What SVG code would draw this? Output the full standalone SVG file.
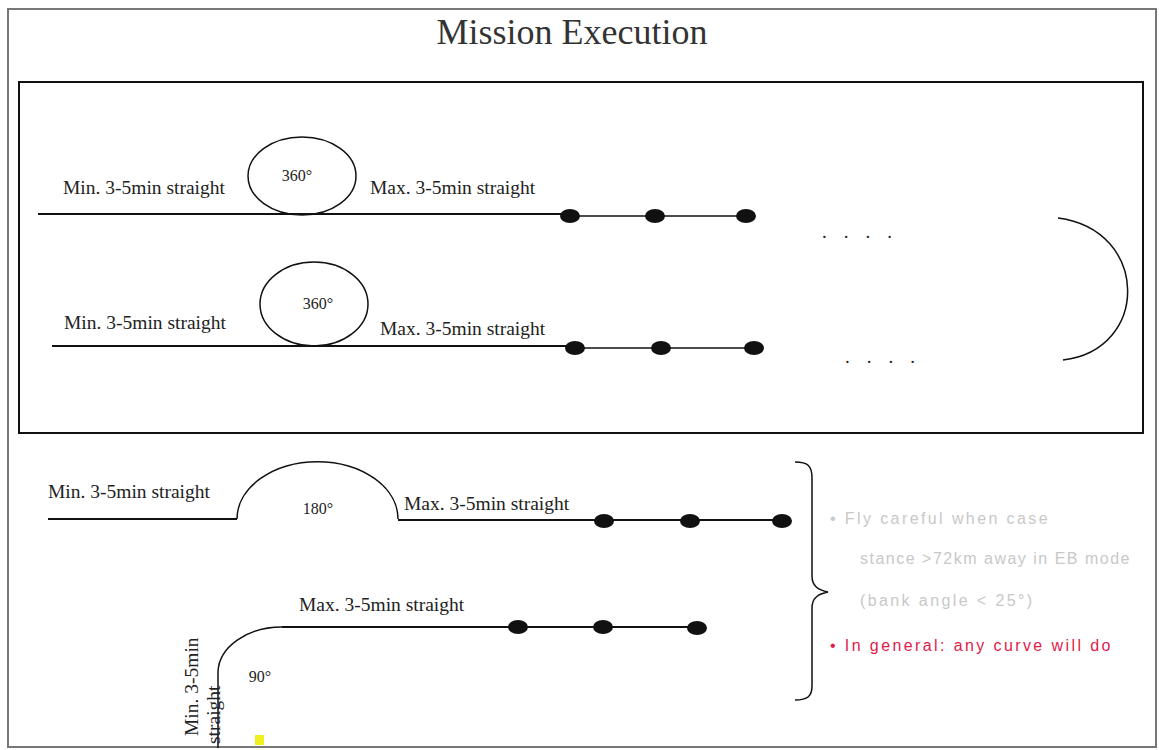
<svg xmlns="http://www.w3.org/2000/svg" width="1159" height="750" viewBox="0 0 1159 750">
<style>
.lbl{font-family:"Liberation Serif",serif;font-size:19.5px;fill:#222}
.deg{font-family:"Liberation Serif",serif;font-size:16px;fill:#222;text-anchor:middle}
.ln{stroke:#111;fill:none;stroke-width:2}
.thin{stroke:#111;fill:none;stroke-width:1.5}
.dot{fill:#111}
.dots{font-family:"Liberation Serif",serif;font-size:19px;fill:#222;letter-spacing:17px}
.note{font-family:"Liberation Sans",Arial,sans-serif;font-size:16px;fill:#c8c8c8;letter-spacing:2.4px}
</style>
<rect width="1159" height="750" fill="#fff"/>
<rect x="8" y="9" width="1148" height="738" fill="none" stroke="#777" stroke-width="2"/>
<text x="572" y="44" text-anchor="middle" font-family="'Liberation Serif',serif" font-size="36" fill="#333">Mission Execution</text>
<rect id="box" x="19" y="82" width="1124" height="351" fill="none" stroke="#111" stroke-width="2"/>
<g id="connectors">
<path class="ln" d="M38 214 H568"/>
<path class="thin" d="M568 216 H747"/>
<path class="ln" d="M52 346 H570"/>
<path class="thin" d="M570 348 H754"/>
<path class="thin" d="M1058 218 C1150 230 1150 350 1063 360"/>
<path class="ln" d="M48 519 H237"/>
<path class="thin" d="M237 519 A80 57 0 0 1 398 519"/>
<path class="ln" d="M398 520 H782"/>
<path class="thin" d="M218 748 V672 A64 46 0 0 1 282 627"/>
<path class="ln" d="M282 627 H697"/>
<path class="thin" d="M795 462 C808 462 812 466 812 478 V576 C812 586 818 590 828 592 C818 594 812 598 812 608 V686 C812 696 808 700 795 700"/>
</g>
<g id="row1">
<ellipse class="thin" cx="302" cy="176" rx="54" ry="39"/>
<text class="lbl" x="63" y="194">Min. 3-5min straight</text>
<text class="deg" x="297" y="181">360°</text>
<text class="lbl" x="370" y="194">Max. 3-5min straight</text>
<ellipse class="dot" cx="570" cy="216" rx="10" ry="7"/>
<ellipse class="dot" cx="655" cy="216" rx="10" ry="7"/>
<ellipse class="dot" cx="746" cy="216" rx="10" ry="7"/>
<text class="dots" x="822" y="238">....</text>
</g>
<g id="row2">
<ellipse class="thin" cx="314" cy="304" rx="54" ry="42"/>
<text class="lbl" x="64" y="329">Min. 3-5min straight</text>
<text class="deg" x="318" y="309">360°</text>
<text class="lbl" x="380" y="335">Max. 3-5min straight</text>
<ellipse class="dot" cx="575" cy="348" rx="10" ry="7"/>
<ellipse class="dot" cx="661" cy="348" rx="10" ry="7"/>
<ellipse class="dot" cx="754" cy="348" rx="10" ry="7"/>
<text class="dots" x="845" y="363">....</text>
</g>
<g id="row3">
<text class="lbl" x="48" y="498">Min. 3-5min straight</text>
<text class="deg" x="318" y="514">180°</text>
<text class="lbl" x="404" y="510">Max. 3-5min straight</text>
<ellipse class="dot" cx="604" cy="521" rx="10" ry="7"/>
<ellipse class="dot" cx="690" cy="521" rx="10" ry="7"/>
<ellipse class="dot" cx="782" cy="521" rx="10" ry="7"/>
</g>
<g id="row4">
<text class="lbl" x="299" y="611">Max. 3-5min straight</text>
<text class="deg" x="260" y="682">90°</text>
<text class="lbl" transform="translate(198 736) rotate(-90)">Min. 3-5min</text>
<text class="lbl" transform="translate(220 744) rotate(-90)">straight</text>
<ellipse class="dot" cx="518" cy="627" rx="10" ry="7"/>
<ellipse class="dot" cx="603" cy="627" rx="10" ry="7"/>
<ellipse class="dot" cx="697" cy="628" rx="10" ry="7"/>
<rect x="255" y="735" width="9" height="10" fill="#f0f020"/>
</g>
<g id="notes">
<text class="note" x="830" y="524">• Fly careful when case</text>
<text class="note" x="860" y="564" style="letter-spacing:1.5px">stance &gt;72km away in EB mode</text>
<text class="note" x="860" y="606">(bank angle &lt; 25°)</text>
<text class="note" x="830" y="651" style="fill:#e0204a">• In general: any curve will do</text>
</g>
</svg>
